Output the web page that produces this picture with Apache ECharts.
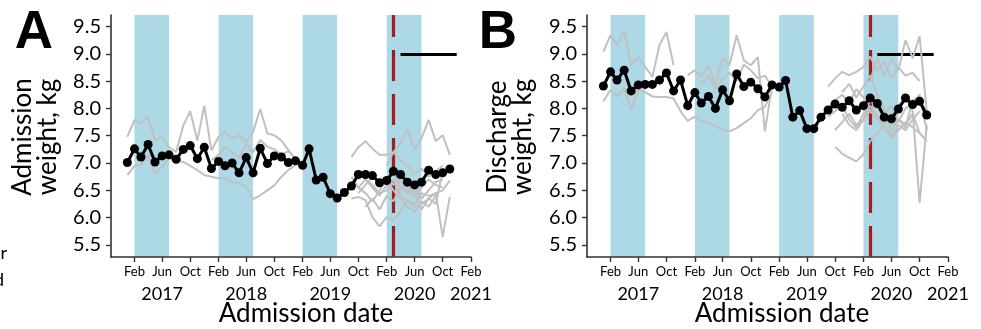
<!DOCTYPE html>
<html><head><meta charset="utf-8">
<script src="https://cdn.jsdelivr.net/npm/echarts@6/dist/echarts.min.js"></script>
<style>html,body{margin:0;padding:0;background:#fff}#c{width:981px;height:329px}</style>
</head><body><div id="c"></div>
<script>
// ---- categories (monthly admission months) ----
const months = ['2017-01','2017-02','2017-03','2017-04','2017-05','2017-06','2017-07','2017-08','2017-09','2017-10','2017-11','2017-12',
  '2018-01','2018-02','2018-03','2018-04','2018-05','2018-06','2018-07','2018-08','2018-09','2018-10','2018-11','2018-12',
  '2019-01','2019-02','2019-03','2019-04','2019-05','2019-06','2019-07','2019-08','2019-09','2019-10','2019-11','2019-12',
  '2020-01','2020-02','2020-03','2020-04','2020-05','2020-06','2020-07','2020-08','2020-09','2020-10','2020-11'];

// ---- overall monthly means (black) ----
const admissionMean = [7.01,7.26,7.11,7.34,7.02,7.13,7.15,7.07,7.25,7.32,7.08,7.29,6.90,7.03,6.95,7.00,6.82,7.10,6.82,7.27,
  6.99,7.13,7.11,7.01,7.04,6.96,7.26,6.69,6.74,6.44,6.36,6.46,6.58,6.79,6.79,6.77,6.64,6.68,6.85,6.79,6.65,6.60,6.65,6.87,6.79,6.82,6.89];
const dischargeMean = [8.41,8.67,8.52,8.70,8.32,8.43,8.44,8.44,8.52,8.65,8.32,8.52,8.05,8.29,8.10,8.22,8.00,8.34,8.14,8.63,
  8.40,8.48,8.36,8.21,8.43,8.39,8.51,7.84,7.96,7.63,7.63,7.84,7.97,8.08,8.02,8.14,7.97,8.05,8.19,8.09,7.84,7.81,7.99,8.19,8.07,8.13,7.88];

// ---- individual site lines (grey), each with its first month ----
const admGrey1Start = '2017-01';
const admGrey1 = [7.48,7.79,7.73,7.85,7.41,7.48,7.29,7.20,7.69,7.95,7.41,8.05,7.23,7.48,7.57,7.45,7.51,7.39,7.57,7.99,7.54,7.51,7.41,7.24,7.05];
const admGrey2Start = '2017-01';
const admGrey2 = [6.78,6.95,6.97,7.14,6.81,6.93,7.09,7.05,7.02,6.95,6.87,6.78,6.75,6.72,6.72,6.65,6.63,6.57,6.34,6.41,6.50,6.59,6.75,6.87,6.96];
const admGrey3Start = '2018-01';
const admGrey3 = [7.05,7.15,7.30,7.20,7.10,7.35,7.20,7.42,7.30,7.25,7.15,7.22,7.08];
const admLate1Start = '2019-09';
const admLate1 = [7.11,7.29,7.40,7.26,7.15,7.15,7.20,7.05,6.95,6.80,6.90,6.75,6.85,6.95];
const admLate2Start = '2020-02';
const admLate2 = [6.95,7.20,7.36,7.62,7.25,7.45,7.79,7.40,7.51,7.15];
const admLate3Start = '2019-09';
const admLate3 = [6.35,6.38,6.32,6.01,5.84,6.01,5.95,6.13,6.32,6.20,6.25,6.35,6.45,6.50,6.68];
const admLate4Start = '2019-10';
const admLate4 = [6.55,6.70,6.60,6.45,6.50,6.70,6.40,6.30,6.25,6.45,6.40,6.45,5.65,6.38];
const admLate5Start = '2019-09';
const admLate5 = [6.60,6.80,6.70,6.55,6.40,6.60,6.85,6.55,6.45,6.60,6.35,6.50,6.65,6.70];
const admLate6Start = '2019-10';
const admLate6 = [6.45,6.60,6.75,6.65,6.75,6.60,6.70,6.50,6.40,6.55,6.70,6.60,6.55];
const admLate7Start = '2019-09';
const admLate7 = [6.75,6.55,6.45,6.30,6.50,6.70,6.50,6.35,6.20,6.10,6.30,6.20,6.40];
const admLate8Start = '2019-11';
const admLate8 = [6.20,6.35,6.15,6.40,6.30,6.55,6.60,6.45,6.15,6.35,6.25,6.85];

const disGrey1Start = '2017-01';
const disGrey1 = [9.04,9.34,9.16,9.43,8.79,8.94,8.76,8.58,9.16,9.40,8.79];
const disGrey2Start = '2017-01';
const disGrey2 = [8.13,8.34,8.22,8.37,7.97,8.34,8.30,8.22,8.21,8.21,8.18,7.95,7.77,7.85,7.77,7.73,7.67,7.61,7.58,7.64,7.73,7.82,7.97,8.03,8.30];
const disGrey3Start = '2018-01';
const disGrey3 = [8.61,8.70,8.58,8.79,8.43,8.92,8.79,9.34,8.88,8.79,8.94,7.58,8.40];
const disGrey4Start = '2018-03';
const disGrey4 = [8.45,8.60,8.35,8.55,8.65,8.50,8.80,8.70,8.55,8.60,8.40];
const disLate1Start = '2019-09';
const disLate1 = [8.40,8.55,8.67,8.61,8.67,8.76,8.95,8.70,8.85,8.55,8.75,8.60,8.65,8.50];
const disLate2Start = '2020-03';
const disLate2 = [8.50,8.93,8.60,8.92,8.70,9.25,8.92,9.32,7.95];
const disLate3Start = '2019-11';
const disLate3 = [7.90,7.70,7.60,7.80,7.95,8.10,7.75,7.90,8.05,8.20,7.95,6.27,7.70];
const disLate4Start = '2019-10';
const disLate4 = [7.30,7.17,7.10,7.03,7.16,7.40,7.55,7.70,7.50,7.60,7.75,7.65,7.55,7.40];
const disLate5Start = '2019-09';
const disLate5 = [7.85,7.95,8.05,7.80,7.65,7.90,8.15,8.00,7.85,7.60,7.80,7.70,7.90,7.55];
const disLate6Start = '2019-09';
const disLate6 = [8.00,8.15,8.25,8.10,8.35,8.20,7.95,7.80,7.90,8.05,7.75,8.00,8.10,8.25,7.85];
const disLate7Start = '2019-10';
const disLate7 = [7.60,7.75,7.90,7.70,7.80,8.05,7.85,7.65,7.45,7.70,7.60,7.80,7.95];
const disLate8Start = '2019-11';
const disLate8 = [8.30,8.45,8.20,8.40,8.60,8.25,7.95,7.70,7.80,7.65,8.15,8.20,7.60];

// ---- ticks, bands, reference lines ----
const yTicks = [5.5,6.0,6.5,7.0,7.5,8.0,8.5,9.0,9.5];
const monthTicks = ['2017-02','2017-06','2017-10','2018-02','2018-06','2018-10','2019-02','2019-06','2019-10','2020-02','2020-06','2020-10','2021-02'];
const yearTickPos = ['2017-06','2018-06','2019-06','2020-06','2021-02'];
const bandStart = ['2017-02','2018-02','2019-02','2020-02'];
const bandEnd = ['2017-07','2018-07','2019-07','2020-07'];
const pandemicStart = '2020-03';
const refSegment = ['2020-04','2020-12'];
const refLevel = 9.0;
const xRange = ['2016-10-22','2021-02-01'];
const yRange = [5.28, 9.71];

const ts = s => { const p = s.split('-'); return new Date(+p[0], +p[1]-1, +(p[2]||1)).getTime(); };
const monNames = ['Jan','Feb','Mar','Apr','May','Jun','Jul','Aug','Sep','Oct','Nov','Dec'];
const pts = (start, vals) => { const i0 = months.indexOf(start); return vals.map((v,k)=>[ts(months[i0+k]), v]); };

const FONT = 'Lato';
const INK = '#000';
const grids = [
  {left:111, right:510, top:15, bottom:72, outerBoundsMode:'none', containLabel:false},
  {left:587, right:33, top:15, bottom:72, outerBoundsMode:'none', containLabel:false}
];
const xAxes = [], yAxes = [];
[0,1].forEach(g => {
  xAxes.push({type:'value', gridIndex:g, position:'bottom', min:ts(xRange[0]), max:ts(xRange[1]),
    splitLine:{show:false},
    axisLine:{show:true, lineStyle:{color:'#333', width:1.6}},
    axisTick:{show:true, length:5, inside:false, customValues: monthTicks.map(ts), lineStyle:{color:'#333', width:1.4}},
    axisLabel:{show:true, customValues: monthTicks.map(ts), margin:8, fontFamily:FONT, fontSize:13, color:INK,
      formatter: v => monNames[new Date(v).getMonth()]}
  });
  xAxes.push({type:'value', gridIndex:g, position:'bottom', min:ts(xRange[0]), max:ts(xRange[1]),
    splitLine:{show:false}, axisLine:{show:false}, axisTick:{show:false},
    axisLabel:{show:true, customValues: yearTickPos.map(ts), margin:28, fontFamily:FONT, fontSize:18, color:INK,
      formatter: v => String(new Date(v).getFullYear())}
  });
  yAxes.push({type:'value', gridIndex:g, min:yRange[0], max:yRange[1], splitLine:{show:false},
    axisLine:{show:true, lineStyle:{color:'#333', width:1.6}},
    axisTick:{show:true, length:5, customValues: yTicks, lineStyle:{color:'#333', width:1.4}},
    axisLabel:{show:true, customValues: yTicks, margin:10, fontFamily:FONT, fontSize:20, color:INK,
      formatter: v => v.toFixed(1)}
  });
});

const series = [];
function addPanel(g, mean, greys) {
  const xi = g*2;
  series.push({type:'line', xAxisIndex:xi, yAxisIndex:g, data:[], silent:true, z:1,
    markArea:{silent:true, z:0, itemStyle:{color:'#add8e6', opacity:1},
      data: bandStart.map((b,i)=>[{xAxis:ts(b)},{xAxis:ts(bandEnd[i])}])},
    markLine:{silent:true, z:1, symbol:['none','none'], label:{show:false},
      data:[
        {xAxis: ts(pandemicStart), lineStyle:{color:'#a01e1e', width:3.2, type:[31,13]}},
        [{coord:[ts(refSegment[0]), refLevel], lineStyle:{color:'#000', width:3, type:'solid'}},
         {coord:[ts(refSegment[1]), refLevel]}]
      ]}
  });
  greys.forEach(([st, vals]) => series.push({type:'line', xAxisIndex:xi, yAxisIndex:g, data:pts(st, vals),
    showSymbol:false, symbol:'none', z:2, silent:true, lineStyle:{color:'#c0c0c0', width:2}}));
  series.push({type:'line', xAxisIndex:xi, yAxisIndex:g, data:pts(months[0], mean), z:3, silent:true,
    symbol:'circle', symbolSize:9, itemStyle:{color:'#000'}, lineStyle:{color:'#000', width:3}});
}
addPanel(0, admissionMean, [[admGrey1Start,admGrey1],[admGrey2Start,admGrey2],[admGrey3Start,admGrey3],
  [admLate1Start,admLate1],[admLate2Start,admLate2],[admLate3Start,admLate3],[admLate4Start,admLate4],
  [admLate5Start,admLate5],[admLate6Start,admLate6],[admLate7Start,admLate7],[admLate8Start,admLate8]]);
addPanel(1, dischargeMean, [[disGrey1Start,disGrey1],[disGrey2Start,disGrey2],[disGrey3Start,disGrey3],[disGrey4Start,disGrey4],
  [disLate1Start,disLate1],[disLate2Start,disLate2],[disLate3Start,disLate3],[disLate4Start,disLate4],
  [disLate5Start,disLate5],[disLate6Start,disLate6],[disLate7Start,disLate7],[disLate8Start,disLate8]]);

const txt = (text, x, y, font, extra) => Object.assign({type:'text', x, y, silent:true,
  style:Object.assign({text, font, fill:INK, align:'center', verticalAlign:'middle', textAlign:'center', textVerticalAlign:'middle'}, extra||{})});
const graphic = [
  txt('A', 34, 33, 'bold 53px "Liberation Sans", Arial'),
  txt('B', 498, 33, 'bold 53px "Liberation Sans", Arial'),
  Object.assign(txt('Admission\nweight, kg', 35, 137, '26px ' + FONT, {lineHeight:25}), {rotation:Math.PI/2}),
  Object.assign(txt('Discharge\nweight, kg', 510, 137, '26px ' + FONT, {lineHeight:25}), {rotation:Math.PI/2}),
  txt('Admission date', 306, 314, '26px ' + FONT),
  txt('Admission date', 782, 314, '26px ' + FONT),
  txt('r', 7, 253, '18px ' + FONT, {align:'right', textAlign:'right'}),
  txt('d', 4, 280, '18px ' + FONT, {align:'right', textAlign:'right'})
];

const chart = echarts.init(document.getElementById('c'), null, {renderer:'canvas'});
chart.setOption({animation:false, backgroundColor:'#fff', grid:grids, xAxis:xAxes, yAxis:yAxes, series, graphic});
</script></body></html>
